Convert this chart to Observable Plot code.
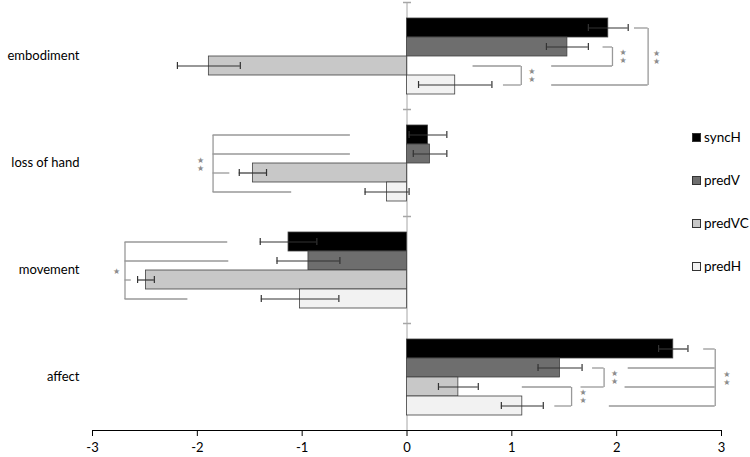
<!DOCTYPE html>
<html><head><meta charset="utf-8">
<script src="https://cdn.jsdelivr.net/npm/d3@7"></script>
<script src="https://cdn.jsdelivr.net/npm/@observablehq/plot@0.6"></script>
<style>
body{margin:0;background:#fff;}
#wrap{position:relative;width:750px;height:457px;font-family:Lato,"Open Sans",sans-serif;}
#legend{position:absolute;left:692px;top:0;}
.item{position:absolute;left:0;white-space:nowrap;font-size:13.5px;line-height:16px;display:flex;align-items:center;color:#000;}
.sw{width:7px;height:7px;border:1px solid #333;margin-right:3px;}
</style></head><body><div id="wrap"></div>
<script>
const categories = ["embodiment", "loss of hand", "movement", "affect"];
const series = ["syncH", "predV", "predVC", "predH"];
const seriesColors = ["#000000", "#6e6e6e", "#c8c8c8", "#f2f2f2"];
const xTicks = [-3, -2, -1, 0, 1, 2, 3];

// mean values per series (one per category)
const syncH  = [1.92, 0.20, -1.13, 2.54];
const predV  = [1.53, 0.22, -0.94, 1.46];
const predVC = [-1.89, -1.47, -2.49, 0.49];
const predH  = [0.46, -0.19, -1.02, 1.10];
// error bar half-widths
const syncHErr  = [0.19, 0.18, 0.27, 0.14];
const predVErr  = [0.20, 0.16, 0.30, 0.21];
const predVCErr = [0.30, 0.13, 0.08, 0.19];
const predHErr  = [0.35, 0.21, 0.37, 0.20];

// significance brackets
const bracketCategory = ["embodiment", "embodiment", "embodiment", "loss of hand", "movement", "affect", "affect", "affect"];
const bracketX = [2.30, 1.96, 1.09, -1.85, -2.69, 2.94, 1.88, 1.57];
const bracketArms = [
  [["syncH", 2.17], ["predH", 1.38]],
  [["predV", 1.87], ["predVC", 1.38]],
  [["predVC", 0.63], ["predH", 0.92]],
  [["syncH", -0.54], ["predV", -0.54], ["predVC", -1.69], ["predH", -1.10]],
  [["syncH", -1.71], ["predV", -1.70], ["predVC", -2.63], ["predH", -2.09]],
  [["syncH", 2.83], ["predV", 2.11], ["predVC", 2.08], ["predH", 1.93]],
  [["predV", 1.77], ["predVC", 1.66]],
  [["predVC", 1.10], ["predH", 1.41]]
];
const bracketStars = ["★★", "★★", "★★", "★★", "★", "★★", "★★", "★★"];
const bracketStarX = [2.38, 2.06, 1.19, -1.97, -2.77, 3.05, 1.98, 1.68];

const valuesBySeries = {syncH, predV, predVC, predH};
const errBySeries = {syncH: syncHErr, predV: predVErr, predVC: predVCErr, predH: predHErr};

const bars = categories.flatMap((c, ci) => series.map(s => ({
  category: c, series: s, value: valuesBySeries[s][ci], err: errBySeries[s][ci]
})));
const arms = bracketArms.flatMap((list, bi) => list.map(([s, x]) => ({
  category: bracketCategory[bi], series: s, x, bx: bracketX[bi]
})));
const brackets = bracketArms.map((list, bi) => ({
  category: bracketCategory[bi], top: list[0][0], bottom: list[list.length - 1][0],
  span: series.indexOf(list[list.length - 1][0]) - series.indexOf(list[0][0]),
  x: bracketX[bi], starX: bracketStarX[bi], stars: Array.from(bracketStars[bi]).join("\n")
}));

const W = 750, H = 457, mT = 2, mB = 27, mL = 92, mR = 29;
const yPad = 0.74;
const facetH = (H - mT - mB) / categories.length;
const step = facetH / (series.length + 2 * yPad);

const grey = "#a6a6a6";
const bracketColor = "#999999";
const hline = {draw(ctx, size) { const r = Math.sqrt(size / Math.PI); ctx.moveTo(-r, 0); ctx.lineTo(r, 0); }};

const starMarks = [1, 3].map(sp => Plot.text(brackets.filter(d => d.span === sp), {
  x: "starX", y: "top", fy: "category", text: "stars", dy: sp * step / 2,
  fill: "#8c8c8c", fontSize: 8, lineHeight: 1, fontFamily: "DejaVu Sans, sans-serif"
}));

const chart = Plot.plot({
  width: W, height: H,
  marginTop: mT, marginBottom: mB, marginLeft: mL, marginRight: mR,
  style: {fontFamily: "Lato, 'Open Sans', sans-serif", fontSize: "13px", color: "#000", background: "#fff"},
  x: {domain: [-3, 3], ticks: xTicks, tickFormat: d => String(d), tickSize: 6, tickPadding: 6, label: null, line: true},
  y: {domain: series, axis: null, paddingInner: 0, paddingOuter: yPad},
  fy: {domain: categories, padding: 0, axis: "left", tickSize: 0, tickPadding: 13, label: null},
  color: {domain: series, range: seriesColors},
  marks: [
    Plot.ruleX([0], {stroke: grey, strokeWidth: 1}),
    Plot.dot([0], {x: d => d, frameAnchor: "top", symbol: hline, r: 4, stroke: grey, fill: "none"}),
    Plot.barX(bars, {x: "value", y: "series", fy: "category", fill: "series", stroke: "#404040", strokeWidth: 0.8}),
    Plot.ruleY(bars, {x1: d => d.value - d.err, x2: d => d.value + d.err, y: "series", fy: "category", stroke: "#333", strokeWidth: 1.2}),
    Plot.tickX(bars, {x: d => d.value - d.err, y: "series", fy: "category", stroke: "#333", strokeWidth: 1.2, insetTop: 6, insetBottom: 6}),
    Plot.tickX(bars, {x: d => d.value + d.err, y: "series", fy: "category", stroke: "#333", strokeWidth: 1.2, insetTop: 6, insetBottom: 6}),
    Plot.ruleY(arms, {x1: "x", x2: "bx", y: "series", fy: "category", stroke: bracketColor, strokeWidth: 1.3}),
    Plot.link(brackets, {x1: "x", x2: "x", y1: "top", y2: "bottom", fy: "category", stroke: bracketColor, strokeWidth: 1.3}),
    ...starMarks
  ]
});
const wrap = document.getElementById("wrap");
wrap.appendChild(chart);
const legend = document.createElement("div");
legend.id = "legend";
const legendTops = [129, 172, 215, 258];
series.forEach((s, i) => {
  const it = document.createElement("div");
  it.className = "item";
  it.style.top = legendTops[i] + "px";
  const sw = document.createElement("span");
  sw.className = "sw";
  sw.style.background = seriesColors[i];
  it.appendChild(sw);
  it.appendChild(document.createTextNode(s));
  legend.appendChild(it);
});
wrap.appendChild(legend);
</script></body></html>
